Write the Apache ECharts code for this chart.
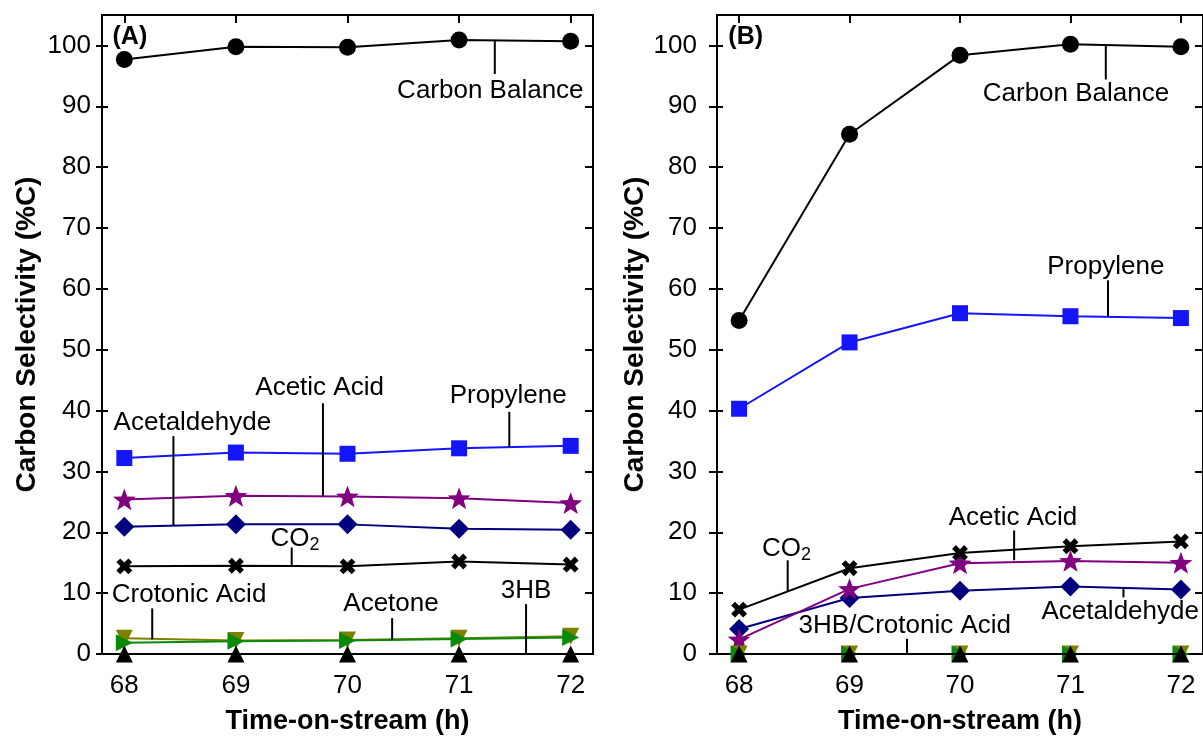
<!DOCTYPE html>
<html>
<head>
<meta charset="utf-8">
<script src="https://cdn.jsdelivr.net/npm/echarts@6/dist/echarts.min.js"></script>
<style>html,body{margin:0;padding:0;background:#fff;}#c{width:1203px;height:740px;}</style>
</head>
<body>
<div id="c"></div>
<script>
// ---------- data ----------
const hours = [68, 69, 70, 71, 72];
const yTicks = [0, 10, 20, 30, 40, 50, 60, 70, 80, 90, 100];

// Panel A
const aCarbonBalance = [97.7, 99.8, 99.7, 100.9, 100.7];
const aPropylene     = [32.2, 33.1, 32.9, 33.8, 34.2];
const aAceticAcid    = [25.4, 26.0, 25.9, 25.6, 24.8];
const aAcetaldehyde  = [20.9, 21.3, 21.3, 20.6, 20.4];
const aCO2           = [14.4, 14.5, 14.4, 15.2, 14.7];
const aCrotonicAcid  = [2.6, 2.2, 2.3, 2.6, 2.9];
const aAcetone       = [1.85, 2.1, 2.2, 2.45, 2.7];
const a3HB           = [0, 0, 0, 0, 0];

// Panel B
const bCarbonBalance = [54.8, 85.4, 98.4, 100.2, 99.8];
const bPropylene     = [40.3, 51.2, 56.0, 55.5, 55.2];
const bAceticAcid    = [2.4, 10.7, 14.9, 15.3, 15.0];
const bAcetaldehyde  = [4.1, 9.2, 10.4, 11.1, 10.6];
const bCO2           = [7.3, 14.1, 16.6, 17.7, 18.5];
const bCrotonicAcid  = [0, 0, 0, 0, 0];
const bAcetone       = [0, 0, 0, 0, 0];
const b3HB           = [0, 0, 0, 0, 0];

// annotation texts: [panel, text, textX, textY, leaderX, leaderY1, leaderY2]
const annotations = [
  [0, 'Carbon Balance', 71.28, 92.6, 71.32, 95.3, 100.7],
  [0, 'Propylene', 71.44, 42.5, 71.45, 39.8, 34.0],
  [0, 'Acetic Acid', 69.75, 43.7, 69.78, 41.2, 26.0],
  [0, 'Acetaldehyde', 68.61, 38.0, 68.44, 35.8, 21.1],
  [0, 'CO2', 69.53, 19.0, 69.5, 17.5, 14.45],
  [0, 'Crotonic Acid', 68.58, 9.8, 68.25, 7.5, 2.4],
  [0, 'Acetone', 70.39, 8.2, 70.4, 5.9, 2.3],
  [0, '3HB', 71.6, 10.3, 71.6, 8.2, 0],
  [1, 'Carbon Balance', 71.05, 92.1, 71.32, 94.4, 100.1],
  [1, 'Propylene', 71.32, 63.7, 71.34, 61.4, 55.5],
  [1, 'Acetic Acid', 70.48, 22.4, 70.49, 20.3, 15.4],
  [1, 'CO2', 68.43, 17.35, 68.44, 15.4, 10.3],
  [1, 'Acetaldehyde', 71.45, 6.9, 71.48, 9.3, 11.0],
  [1, '3HB/Crotonic Acid', 69.5, 4.6, 69.52, 2.5, 0]
];
const panelLetters = [[0, '(A)', 68.05, 101.3], [1, '(B)', 68.06, 101.3]];

// ---------- styles ----------
const FONT = 'Liberation Sans, Arial, sans-serif';
const starPath = 'path://M100,0L124,66L195.1,69.1L139,112L158.8,180.9L100,141L41.2,180.9L61,112L4.9,69.1L76,66Z';
const plusPath = 'path://M3.4,0H6.6V3.4H10V6.6H6.6V10H3.4V6.6H0V3.4H3.4Z';

const seriesDefs = [
  {name: 'Carbon Balance', color: '#000000', symbol: 'circle', size: 17, rot: 0},
  {name: 'Propylene', color: '#1414ff', symbol: 'rect', size: 16, rot: 0},
  {name: 'Acetaldehyde', color: '#00007f', symbol: 'diamond', size: 20, rot: 0},
  {name: 'Acetic Acid', color: '#800080', symbol: starPath, size: 23, rot: 0},
  {name: 'CO2', color: '#000000', symbol: plusPath, size: 17, rot: 45},
  {name: 'Crotonic Acid', color: '#808000', symbol: 'triangle', size: 17, rot: 180},
  {name: 'Acetone', color: '#0a8a0a', symbol: 'triangle', size: 17, rot: -90},
  {name: '3HB', color: '#000000', symbol: 'triangle', size: 17, rot: 0}
];
const panelData = [
  [aCarbonBalance, aPropylene, aAcetaldehyde, aAceticAcid, aCO2, aCrotonicAcid, aAcetone, a3HB],
  [bCarbonBalance, bPropylene, bAcetaldehyde, bAceticAcid, bCO2, bCrotonicAcid, bAcetone, b3HB]
];

const grids = [
  {left: 102, top: 15, width: 491, height: 642},
  {left: 717, top: 15, width: 488, height: 642}
];
const X_MIN = 67.8, X_MAX = 72.2, Y_MIN = 0, Y_MAX = 105;
const lineStyleAxis = {color: '#000', width: 2};

const xAxes = [], yAxes = [], series = [];
grids.forEach((g, gi) => {
  xAxes.push({
    type: 'value', gridIndex: gi, position: 'bottom', min: X_MIN, max: X_MAX,
    name: 'Time-on-stream (h)', nameLocation: 'middle', nameGap: 54,
    nameTextStyle: {fontFamily: FONT, fontWeight: 'bold', fontSize: 27, color: '#000'},
    axisLine: {show: true, onZero: false, lineStyle: lineStyleAxis},
    axisTick: {show: false},
    axisLabel: {customValues: hours, margin: 19, fontFamily: FONT, fontSize: 26, color: '#000'},
    splitLine: {show: false}
  });
  xAxes.push({
    type: 'value', gridIndex: gi, position: 'top', min: X_MIN, max: X_MAX,
    axisLine: {show: true, onZero: false, lineStyle: lineStyleAxis},
    axisTick: {show: true, inside: true, length: 8, customValues: hours, lineStyle: {width: 2, color: '#000'}},
    axisLabel: {show: false}, splitLine: {show: false}
  });
  yAxes.push({
    type: 'value', gridIndex: gi, position: 'left', min: Y_MIN, max: Y_MAX,
    name: 'Carbon Selectivity (%C)', nameLocation: 'middle', nameGap: 61,
    nameTextStyle: {fontFamily: FONT, fontWeight: 'bold', fontSize: 28, color: '#000'},
    axisLine: {show: true, onZero: false, lineStyle: lineStyleAxis},
    axisTick: {show: true, inside: false, length: gi === 0 ? 6 : 8, customValues: yTicks, lineStyle: {width: 2, color: '#000'}},
    axisLabel: {customValues: yTicks, margin: gi === 0 ? 11 : 20, fontFamily: FONT, fontSize: 26, color: '#000'},
    splitLine: {show: false}
  });
  yAxes.push({
    type: 'value', gridIndex: gi, position: 'left', min: Y_MIN, max: Y_MAX,
    axisLine: {show: false},
    axisTick: {show: true, inside: true, length: 6, customValues: yTicks, lineStyle: {width: 2, color: '#000'}},
    axisLabel: {show: false}, splitLine: {show: false}
  });
  yAxes.push({
    type: 'value', gridIndex: gi, position: 'right', min: Y_MIN, max: Y_MAX,
    axisLine: {show: true, onZero: false, lineStyle: lineStyleAxis},
    axisTick: {show: true, inside: true, length: 8, customValues: yTicks, lineStyle: {width: 2, color: '#000'}},
    axisLabel: {show: false}, splitLine: {show: false}
  });

  seriesDefs.forEach((d, si) => {
    const vals = panelData[gi][si];
    series.push({
      type: 'line', name: d.name,
      xAxisIndex: gi * 2, yAxisIndex: gi * 3,
      data: hours.map((h, i) => [h, vals[i]]),
      symbol: d.symbol, symbolSize: d.size, symbolRotate: d.rot, symbolKeepAspect: true,
      showSymbol: true, clip: false,
      lineStyle: {color: d.color, width: 2},
      itemStyle: {color: d.color, borderWidth: 0, opacity: 1},
      emphasis: {disabled: true},
      animation: false,
      z: 2 + si
    });
  });
});

const chart = echarts.init(document.getElementById('c'), null, {renderer: 'canvas'});
chart.setOption({
  animation: false,
  backgroundColor: '#fff',
  grid: grids.map(g => Object.assign({containLabel: false}, g)),
  xAxis: xAxes, yAxis: yAxes, series: series
});

const graphics = [];
annotations.forEach(a => {
  const [gi, text, tx, ty, lx, ly1, ly2] = a;
  const tp = chart.convertToPixel({gridIndex: gi}, [tx, ty]);
  const p1 = chart.convertToPixel({gridIndex: gi}, [lx, ly1]);
  const p2 = chart.convertToPixel({gridIndex: gi}, [lx, ly2]);
  graphics.push({
    type: 'line', z: 50,
    shape: {x1: p1[0], y1: p1[1], x2: p2[0], y2: p2[1]},
    style: {stroke: '#000', lineWidth: 2}
  });
  if (text === 'CO2') {
    graphics.push({
      type: 'text', z: 51, x: tp[0], y: tp[1],
      style: {
        text: '{m|CO}{s|2}', align: 'center', verticalAlign: 'middle',
        rich: {
          m: {fontFamily: FONT, fontSize: 26, fill: '#000', lineHeight: 30},
          s: {fontFamily: FONT, fontSize: 18, fill: '#000', lineHeight: 30, padding: [14, 0, 0, 0]}
        }
      }
    });
  } else {
    graphics.push({
      type: 'text', z: 51, x: tp[0], y: tp[1],
      style: {text: text, font: '26px ' + FONT, fill: '#000', align: 'center', verticalAlign: 'middle'}
    });
  }
});
panelLetters.forEach(p => {
  const tp = chart.convertToPixel({gridIndex: p[0]}, [p[2], p[3]]);
  graphics.push({
    type: 'text', z: 51, x: tp[0], y: tp[1],
    style: {text: p[1], font: 'bold 25px ' + FONT, fill: '#000', align: 'center', verticalAlign: 'middle'}
  });
});
chart.setOption({graphic: graphics});
</script>
</body>
</html>
